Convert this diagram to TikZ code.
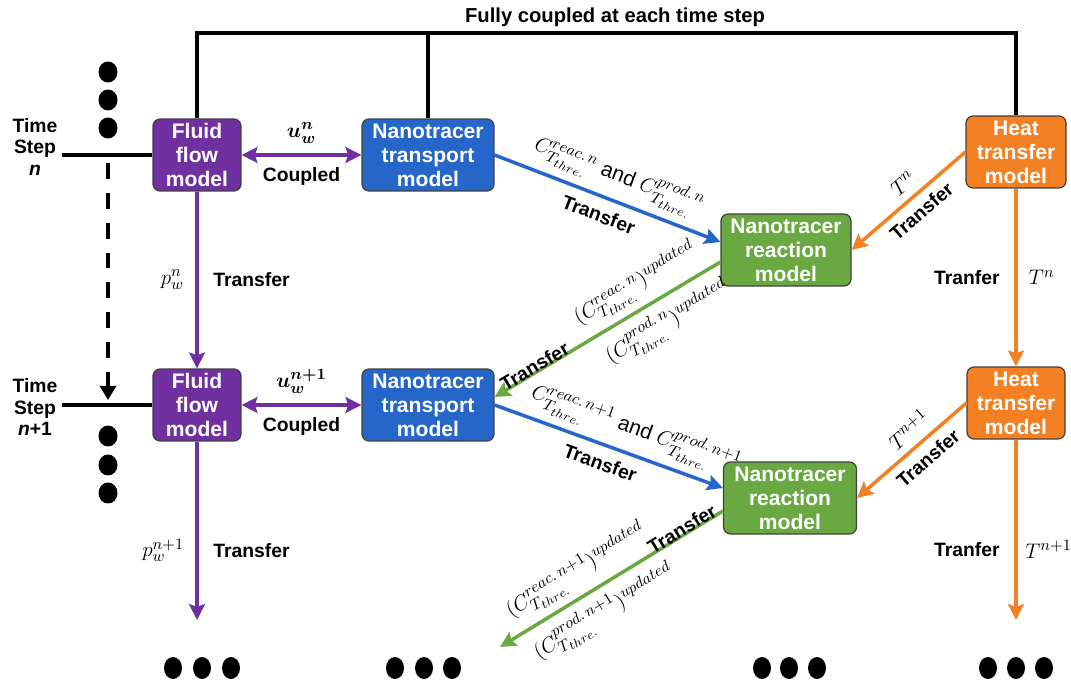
\documentclass[tikz,border=0pt]{standalone}
\usepackage{fontspec}
\setmainfont{Liberation Sans}
\usepackage{amsmath}
\usepackage{xcolor}
\usetikzlibrary{arrows.meta, positioning, calc}
\DeclareMathSizes{12}{12}{9}{7.5}
\definecolor{myfluid}{RGB}{112, 48, 160}
\definecolor{mytransport}{RGB}{38, 102, 200}
\definecolor{myreaction}{RGB}{106, 168, 66}
\definecolor{myheat}{RGB}{243, 128, 34}

\begin{document}
\begin{tikzpicture}[
    x=0.02cm, y=-0.02cm,
    box/.style={rectangle, rounded corners=0.14cm, draw=black!75, line width=0.7pt, text=white, font=\fontsize{12}{13.6}\selectfont\bfseries, align=center, minimum height=1.44cm, inner sep=1pt},
    lbl/.style={text=black, font=\fontsize{11}{13}\selectfont\bfseries},
    mlbl/.style={text=black, font=\fontsize{12}{14}\selectfont},
    arrow/.style={line width=2pt, -{Stealth[length=9pt, width=9pt, inset=1.5pt]}},
    biarrow/.style={line width=2pt, {Stealth[length=9pt, width=9pt, inset=1.5pt]}-{Stealth[length=9pt, width=9pt, inset=1.5pt]}},
    frame/.style={line width=2.2pt}
]
\useasboundingbox (0,0) rectangle (1071,685);

% Title and coupling frame
\node[font=\fontsize{11.5}{13}\selectfont\bfseries] (title) at (615,17) {Fully coupled at each time step};

% Time step n
\node[box, fill=myfluid, minimum width=1.76cm] (fluidA) at (197,155) {Fluid\\flow\\model};
\node[box, fill=mytransport, minimum width=2.64cm] (transA) at (428,155) {Nanotracer\\transport\\model};
\node[box, fill=myreaction, minimum width=2.6cm] (reactA) at (786,250) {Nanotracer\\reaction\\model};
\node[box, fill=myheat, minimum width=2cm] (heatA) at (1016,152) {Heat\\transfer\\model};

% Time step n+1
\node[box, fill=myfluid, minimum width=1.76cm] (fluidB) at (197,405) {Fluid\\flow\\model};
\node[box, fill=mytransport, minimum width=2.64cm] (transB) at (428,405) {Nanotracer\\transport\\model};
\node[box, fill=myreaction, minimum width=2.66cm] (reactB) at (790,498) {Nanotracer\\reaction\\model};
\node[box, fill=myheat, minimum width=1.96cm] (heatB) at (1016,403) {Heat\\transfer\\model};

% Frame
\coordinate (frameL) at (195,33);
\coordinate (frameR) at (1016,33);
\draw[frame] (fluidA.north) -- (fluidA.north |- frameL) -- (frameR) -- (heatA.north);
\draw[frame] (transA.north) -- (transA.north |- frameL);

% Time step labels
\node[font=\fontsize{11}{12}\selectfont\bfseries, align=center] (stepA) at (35,147) {Time\\Step\\\textit{n}};
\node[font=\fontsize{11}{12}\selectfont\bfseries, align=center] (stepB) at (35,407) {Time\\Step\\\textit{n}+1};
\coordinate (stepLineA) at (62,155);
\coordinate (stepLineB) at (62,405);
\draw[frame] (stepLineA) -- (fluidA.west);
\draw[frame] (stepLineB) -- (fluidB.west);

% Dashed time march
\coordinate (dashTop) at (108,163);
\coordinate (dashEnd) at (108,400);
\draw[frame, dash pattern=on 9pt off 8pt, -{Triangle[length=8pt, width=9pt]}] (dashTop) -- (dashEnd);

% Dots
\foreach \y in {72,100,128,436,465,493}
    \fill (108,\y) ellipse [x radius=0.19cm, y radius=0.21cm];
\foreach \x in {173,202,231,395,424,452,762,789,817,988,1016,1044}
    \fill (\x,668) ellipse [x radius=0.18cm, y radius=0.22cm];

% Free ends
\coordinate (fluidEnd) at (197,620);
\coordinate (heatEnd) at (1016,620);
\coordinate (greenEnd) at (500,647);

% Arrows, step n
\draw[biarrow, myfluid] (fluidA) -- node[above=2pt, mlbl] {$\boldsymbol{u_w^n}$} node[below=3pt, lbl] {Coupled} (transA);
\draw[arrow, myfluid] (fluidA) -- node[left=3pt, mlbl] {$p_w^n$} node[right=5pt, lbl] {Transfer} (fluidB);
\draw[arrow, mytransport] (transA.east) -- node[pos=0.51, sloped, above=1pt, mlbl] {$C^{reac.\,n}_{T_{thre.}}$ and $C^{prod.\,n}_{T_{thre.}}$} node[pos=0.49, sloped, below=2pt, lbl] {Transfer} ([yshift=0.16cm]reactA.west);
\draw[arrow, myreaction] ([yshift=-0.24cm]reactA.west) -- node[pos=0.32, sloped, above=1pt, mlbl] {$(C^{reac.\,n}_{T_{thre.}})^{updated}$} node[pos=0.29, sloped, below=1pt, mlbl] {$(C^{prod.\,n}_{T_{thre.}})^{updated}$} node[pos=0.81, sloped, above=-5pt, lbl] {Transfer} ([yshift=0.16cm]transB.east);
\draw[arrow, myheat] (heatA.west) -- node[pos=0.45, sloped, above=1pt, mlbl] {$T^n$} node[pos=0.48, sloped, below=1pt, lbl] {Transfer} (reactA.east);
\draw[arrow, myheat] (heatA) -- node[left=5pt, lbl] {Tranfer} node[right=3pt, mlbl] {$T^n$} (heatB);

% Arrows, step n+1
\draw[biarrow, myfluid] (fluidB) -- node[above=2pt, mlbl] {$\boldsymbol{u_w^{n+1}}$} node[below=3pt, lbl] {Coupled} (transB);
\draw[arrow, myfluid] (fluidB) -- node[pos=0.61, left=3pt, mlbl] {$p_w^{n+1}$} node[pos=0.61, right=5pt, lbl] {Transfer} (fluidEnd);
\draw[arrow, mytransport] (transB.east) -- node[pos=0.58, sloped, above=1pt, mlbl] {$C^{reac.\,n+1}_{T_{thre.}}$ and $C^{prod.\,n+1}_{T_{thre.}}$} node[pos=0.49, sloped, below=2pt, lbl] {Transfer} ([yshift=0.2cm]reactB.west);
\draw[arrow, myreaction] ([yshift=-0.26cm]reactB.west) -- node[pos=0.6, sloped, above=1pt, mlbl] {$(C^{reac.\,n+1}_{T_{thre.}})^{updated}$} node[pos=0.59, sloped, below=1pt, mlbl] {$(C^{prod.\,n+1}_{T_{thre.}})^{updated}$} node[pos=0.17, sloped, above=-5pt, lbl] {Transfer} (greenEnd);
\draw[arrow, myheat] (heatB.west) -- node[pos=0.42, sloped, above=1pt, mlbl] {$T^{n+1}$} node[pos=0.45, sloped, below=1pt, lbl] {Transfer} (reactB.east);
\draw[arrow, myheat] (heatB) -- node[pos=0.61, left=5pt, lbl] {Tranfer} node[pos=0.61, right=1pt, mlbl] {$T^{n+1}$} (heatEnd);

\end{tikzpicture}
\end{document}
